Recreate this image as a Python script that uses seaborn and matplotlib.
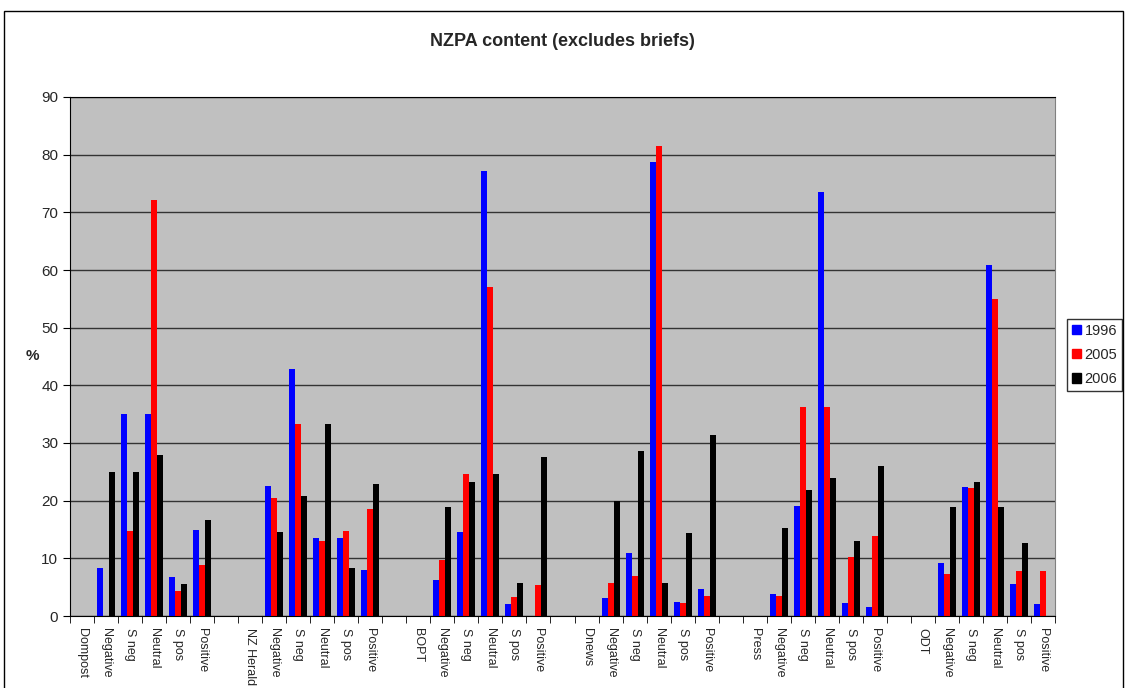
import pandas as pd
import matplotlib
matplotlib.use('Agg')
import matplotlib.pyplot as plt
import matplotlib.patches as mpatches
import seaborn as sns

# Kategoriler (gazete + ton); '' = gruplar arasındaki boş kategori
categories = ['Dompost', 'Negative', 'S neg', 'Neutral', 'S pos', 'Positive', '',
              'NZ Herald', 'Negative', 'S neg', 'Neutral', 'S pos', 'Positive', '',
              'BOPT', 'Negative', 'S neg', 'Neutral', 'S pos', 'Positive', '',
              'Dnews', 'Negative', 'S neg', 'Neutral', 'S pos', 'Positive', '',
              'Press', 'Negative', 'S neg', 'Neutral', 'S pos', 'Positive', '',
              'ODT', 'Negative', 'S neg', 'Neutral', 'S pos', 'Positive']

y1996 = [0, 8.3, 35.0, 35.0, 6.7, 14.9, 0,
         0, 22.5, 42.8, 13.5, 13.5, 8.0, 0,
         0, 6.2, 14.6, 77.1, 2.1, 0, 0,
         0, 3.1, 10.9, 78.7, 2.4, 4.7, 0,
         0, 3.8, 19.1, 73.5, 2.2, 1.5, 0,
         0, 9.2, 22.4, 60.8, 5.5, 2.1]
y2005 = [0, 0, 14.7, 72.1, 4.4, 8.8, 0,
         0, 20.4, 33.3, 13.0, 14.7, 18.5, 0,
         0, 9.7, 24.6, 57.0, 3.3, 5.4, 0,
         0, 5.7, 7.0, 81.5, 2.2, 3.5, 0,
         0, 3.5, 36.2, 36.2, 10.2, 13.9, 0,
         0, 7.3, 22.2, 54.9, 7.8, 7.8]
y2006 = [0, 25.0, 25.0, 27.9, 5.5, 16.6, 0,
         0, 14.6, 20.8, 33.3, 8.3, 22.9, 0,
         0, 18.9, 23.2, 24.6, 5.7, 27.6, 0,
         0, 20.0, 28.6, 5.7, 14.4, 31.4, 0,
         0, 15.3, 21.8, 23.9, 13.0, 26.0, 0,
         0, 18.9, 23.2, 18.9, 12.6, 0]

years = ['1996', '2005', '2006']
colors = ['#0000FF', '#FF0000', '#000000']

# Uzun formatta tablo
rows = []
for yr, vals in zip(years, [y1996, y2005, y2006]):
    for i, v in enumerate(vals):
        rows.append({'pos': i, 'Year': yr, 'Value': v})
df = pd.DataFrame(rows)

sns.set_style('white')
plt.rcParams['font.family'] = ['Liberation Sans', 'DejaVu Sans']

fig = plt.figure(figsize=(11.26, 6.88), dpi=100)
ax = fig.add_axes([70/1126, 1-616/688, (1055-70)/1126, (616-97)/688])
ax.set_facecolor('#C0C0C0')

sns.barplot(data=df, x='pos', y='Value', hue='Year', palette=colors,
            width=0.75, errorbar=None, saturation=1, ax=ax, legend=False,
            linewidth=0)

ax.set_ylim(0, 90)
ax.set_xlim(-0.5, len(categories) - 0.5)
ax.set_yticks(range(0, 91, 10))
ax.tick_params(axis='y', labelsize=11, length=5, color='black', direction='out', left=True)
ax.yaxis.grid(True, color='#333333', linewidth=1)
ax.set_axisbelow(True)

ax.set_xticks(range(len(categories)))
ax.set_xticklabels(categories, rotation=270, fontsize=9, va='top', ha='center')
ax.tick_params(axis='x', which='major', length=0, pad=9)
ax.set_xticks([i - 0.5 for i in range(len(categories) + 1)], minor=True)
ax.tick_params(axis='x', which='minor', length=5, color='black', bottom=True)

for s in ['left', 'bottom', 'top']:
    ax.spines[s].set_color('black')
ax.spines['right'].set_color('#808080')

ax.set_xlabel('')
ax.set_ylabel('%', rotation=0, fontsize=11, fontweight='bold', va='center')
ax.yaxis.set_label_coords(-0.038, 0.5)

fig.text(562/1126, 1-42/688, 'NZPA content (excludes briefs)', ha='center', va='center',
         fontsize=13, fontweight='bold')

handles = [mpatches.Patch(color=c, label=y) for c, y in zip(colors, years)]
leg = fig.legend(handles=handles, loc='center left', bbox_to_anchor=(1067/1126, 1-355/688),
                 frameon=True, fancybox=False, edgecolor='black', fontsize=10.5,
                 handlelength=0.6, handleheight=0.6, handletextpad=0.25,
                 borderpad=0.35, labelspacing=0.7, borderaxespad=0)
leg.get_frame().set_linewidth(1)

# Grafik çerçevesi
fig.patches.append(mpatches.Rectangle((4/1126, -0.01), 1119/1126, 1 - 11/688 + 0.01,
                                      transform=fig.transFigure, fill=False,
                                      edgecolor='black', linewidth=1))

fig.savefig('out.png', dpi=100)
